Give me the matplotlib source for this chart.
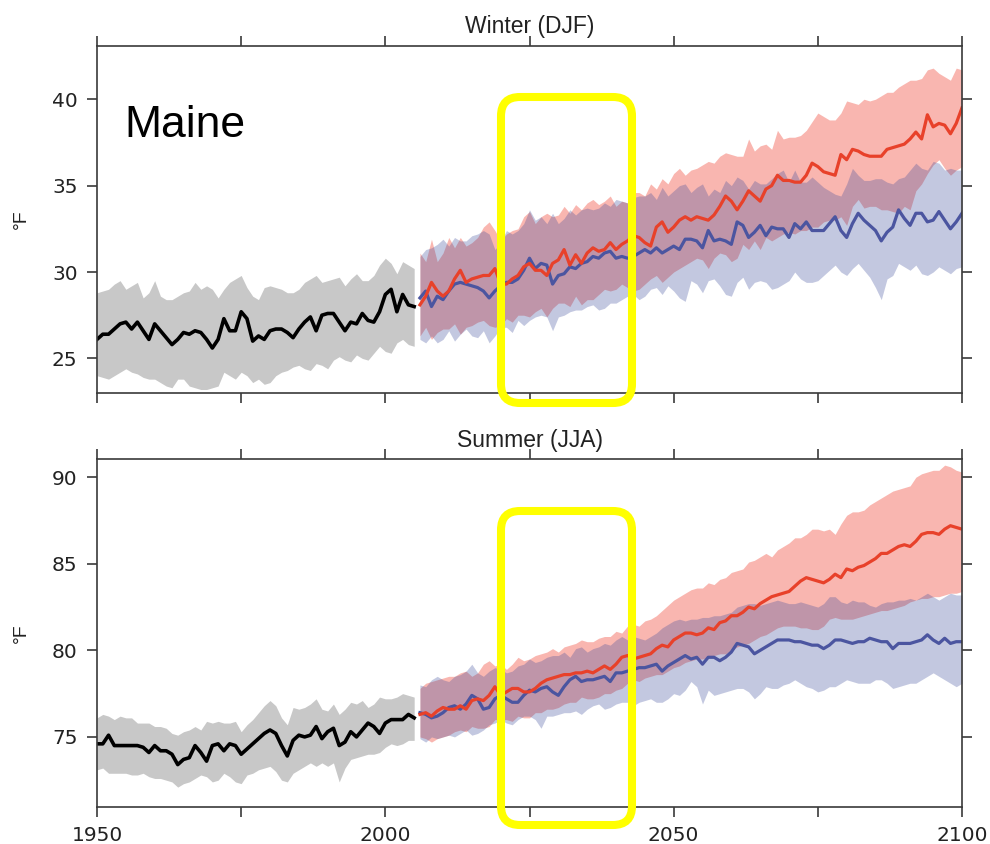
import numpy as np
import matplotlib
matplotlib.use('Agg')
import matplotlib.pyplot as plt
from matplotlib.patches import FancyBboxPatch
from matplotlib.ticker import MultipleLocator, FuncFormatter

plt.rcParams['font.family'] = ['Liberation Sans', 'DejaVu Sans']

# -------------------------------------------------
# Data (deg F, one value per year)

years_hist = np.arange(1950, 2006)
years_proj = np.arange(2006, 2101)

# Winter (DJF)
win_hist = [26.1, 26.4, 26.4, 26.7, 27.0, 27.1, 26.7, 27.1, 26.6, 26.1,
            27.0, 26.6, 26.2, 25.8, 26.1, 26.5, 26.4, 26.6, 26.5, 26.1,
            25.6, 26.1, 27.3, 26.6, 26.6, 27.7, 27.3, 26.0, 26.3, 26.1,
            26.6, 26.7, 26.7, 26.5, 26.2, 26.7, 27.1, 27.4, 26.6, 27.5,
            27.6, 27.6, 27.1, 26.6, 27.1, 27.0, 27.6, 27.2, 27.1, 27.7,
            28.7, 29.0, 27.7, 28.7, 28.1, 28.0]
win_hist_hi = [28.8, 28.9, 29.0, 29.3, 29.5, 29.0, 29.2, 29.4, 28.5, 28.8,
               29.5, 28.6, 28.4, 28.4, 28.6, 28.8, 28.9, 29.4, 29.0, 29.2,
               29.0, 28.5, 29.0, 29.4, 29.6, 29.8, 29.1, 28.6, 28.4, 29.1,
               29.2, 29.1, 29.0, 28.8, 28.8, 29.0, 29.4, 29.6, 29.8, 29.4,
               29.5, 29.6, 29.7, 29.2, 29.6, 29.9, 29.5, 29.5, 29.8, 30.4,
               30.8, 30.5, 29.9, 30.6, 30.4, 30.2]
win_hist_lo = [24.0, 23.9, 23.8, 24.0, 24.2, 24.4, 24.2, 24.1, 23.9, 23.8,
               23.8, 23.6, 23.4, 23.3, 23.8, 23.8, 23.4, 23.3, 23.2, 23.2,
               23.3, 23.4, 24.2, 24.0, 23.8, 24.2, 24.0, 23.6, 23.8, 23.5,
               23.6, 24.0, 24.2, 24.3, 24.5, 24.6, 24.4, 24.3, 24.7, 24.6,
               24.4, 24.9, 25.1, 24.9, 24.8, 25.2, 25.0, 24.9, 25.3, 25.7,
               25.4, 25.3, 25.9, 26.1, 25.8, 25.7]

win_high = [28.1, 28.6, 29.4, 28.9, 28.6, 28.9, 29.6, 30.1, 29.4, 29.6,
            29.7, 29.8, 29.8, 30.2, 29.3, 29.3, 29.6, 29.8, 30.3, 30.5,
            30.1, 30.1, 29.8, 30.5, 30.7, 31.3, 30.4, 31.0, 30.5, 31.1,
            31.4, 31.2, 31.3, 31.7, 31.3, 31.6, 31.8, 32.1, 32.0, 31.7,
            31.5, 32.6, 32.9, 32.3, 32.6, 33.0, 33.2, 33.0, 33.2, 33.1,
            33.0, 33.3, 33.8, 34.4, 34.1, 33.6, 34.1, 34.7, 34.4, 34.1,
            34.8, 35.0, 35.6, 35.3, 35.3, 35.2, 35.2, 35.6, 36.3, 36.1,
            35.8, 35.7, 35.6, 36.8, 36.5, 37.1, 37.0, 36.8, 36.7, 36.7,
            36.7, 37.1, 37.2, 37.3, 37.4, 37.7, 38.1, 37.7, 39.1, 38.4,
            38.6, 38.5, 38.0, 38.6, 39.5]
win_high_hi = [31.1, 30.6, 31.9, 30.6, 31.1, 32.0, 31.4, 32.0, 31.5, 31.7,
               32.0, 32.6, 32.9, 32.4, 31.8, 32.2, 32.4, 32.5, 33.2, 33.5,
               32.8, 33.2, 33.4, 33.2, 33.3, 33.8, 33.4, 33.9, 33.6, 34.0,
               34.2, 33.9, 34.1, 34.4, 33.8, 34.1, 34.0, 34.6, 34.6, 34.4,
               35.1, 34.8, 35.4, 35.1, 35.7, 36.0, 35.6, 35.9, 36.0, 36.2,
               36.4, 36.3, 36.7, 36.9, 36.8, 36.7, 36.7, 37.7, 37.0, 37.3,
               37.4, 37.1, 38.2, 37.7, 37.8, 37.8, 37.9, 38.2, 38.7, 39.2,
               39.0, 38.8, 38.8, 39.2, 39.9, 39.8, 39.7, 40.0, 39.9, 40.0,
               40.2, 40.4, 40.4, 40.7, 40.9, 41.1, 41.1, 41.2, 41.7, 41.8,
               41.5, 41.3, 41.1, 41.8, 41.7]
win_high_lo = [26.3, 26.8, 26.1, 26.5, 26.7, 26.7, 27.0, 26.4, 26.8, 26.9,
               27.1, 27.2, 26.9, 26.8, 26.9, 27.3, 27.1, 27.5, 27.5, 27.4,
               27.7, 27.9, 27.4, 27.9, 28.2, 28.2, 28.0, 28.6, 28.1, 28.4,
               28.4, 28.7, 29.0, 28.9, 29.0, 29.3, 29.1, 28.9, 29.0, 29.3,
               29.6, 29.8, 29.4, 29.7, 30.0, 30.2, 30.4, 30.6, 30.8, 30.7,
               30.2, 30.8, 31.1, 31.0, 30.6, 30.8, 31.6, 31.3, 31.8, 31.3,
               32.0, 31.8, 32.0, 32.2, 32.3, 32.2, 32.4, 32.4, 32.6, 32.6,
               32.9, 33.0, 33.0, 33.2, 32.7, 33.8, 34.2, 33.7, 33.8, 33.8,
               33.6, 33.6, 33.5, 33.4, 33.8, 33.6, 34.7, 35.1, 35.7, 36.2,
               36.5, 36.0, 35.6, 35.9, 36.1]

win_low = [28.5, 28.9, 28.0, 28.6, 28.4, 28.9, 29.3, 29.4, 29.3, 29.2,
           29.1, 28.9, 28.5, 28.9, 29.2, 29.4, 29.4, 29.6, 30.1, 30.8,
           30.2, 30.5, 30.4, 29.3, 29.8, 29.9, 30.3, 30.2, 30.5, 30.6,
           30.9, 30.8, 31.1, 31.2, 30.8, 30.9, 30.8, 30.9, 31.1, 31.3,
           31.1, 31.4, 31.1, 31.3, 31.5, 31.3, 31.9, 31.9, 31.8, 31.4,
           32.4, 31.8, 31.9, 31.8, 31.6, 32.9, 32.7, 32.0, 32.3, 32.7,
           32.1, 32.6, 32.5, 32.5, 32.0, 32.8, 32.5, 32.9, 32.4, 32.4,
           32.4, 32.8, 33.2, 32.4, 32.0, 32.8, 33.4, 33.0, 32.7, 32.4,
           31.8, 32.3, 32.6, 33.6, 33.1, 32.7, 33.4, 33.4, 32.9, 33.0,
           33.5, 33.0, 32.5, 32.9, 33.4]
win_low_hi = [30.9, 31.3, 31.4, 31.6, 31.9, 31.5, 32.0, 31.8, 31.8, 32.1,
              32.2, 32.4, 32.2, 31.3, 31.7, 32.4, 32.2, 32.4, 32.8, 33.6,
              33.0, 33.2, 32.8, 33.4, 32.8, 33.1, 33.6, 33.3, 33.6, 33.7,
              33.6, 33.7, 34.0, 33.8, 34.2, 34.1, 34.0, 34.3, 34.4, 34.4,
              34.6, 34.2, 34.9, 34.4, 34.7, 35.0, 35.1, 34.6, 34.9, 35.1,
              34.4, 34.8, 34.6, 35.3, 35.0, 35.5, 35.3, 34.8, 35.3, 35.1,
              35.1, 35.4, 35.7, 35.9, 35.2, 35.9, 35.2, 35.2, 35.5, 35.2,
              34.9, 34.7, 34.5, 34.4, 35.1, 36.0, 35.6, 35.3, 35.3, 35.4,
              35.4, 35.2, 35.1, 35.4, 35.5, 35.9, 36.3, 36.0, 35.9, 36.4,
              36.3, 35.9, 36.0, 35.9, 35.9]
win_low_lo = [26.1, 25.9, 26.3, 25.9, 26.1, 26.6, 26.0, 26.4, 26.7, 26.3,
              26.2, 26.6, 25.9, 26.3, 26.8, 26.8, 26.5, 27.2, 26.9, 27.2,
              27.4, 27.5, 27.4, 26.6, 27.4, 27.5, 27.7, 27.8, 27.8, 28.0,
              28.1, 27.8, 27.9, 28.2, 28.2, 28.4, 28.6, 28.7, 28.4, 28.6,
              29.0, 29.1, 28.7, 29.2, 28.9, 28.5, 28.3, 29.5, 29.3, 28.8,
              29.5, 29.6, 29.2, 28.7, 28.6, 29.4, 29.7, 29.0, 29.4, 29.5,
              29.4, 29.0, 29.1, 29.3, 29.5, 30.0, 29.6, 29.4, 29.4, 29.5,
              29.8, 30.1, 30.4, 30.0, 29.8, 30.2, 30.5, 30.1, 29.7, 29.1,
              28.4, 29.6, 29.8, 30.5, 30.3, 30.1, 30.4, 29.9, 29.8, 30.0,
              30.3, 30.1, 29.9, 30.2, 30.3]

# Summer (JJA)
sum_hist = [74.6, 74.6, 75.1, 74.5, 74.5, 74.5, 74.5, 74.5, 74.4, 74.1,
            74.5, 74.2, 74.2, 74.0, 73.4, 73.7, 73.8, 74.5, 74.1, 73.6,
            74.5, 74.6, 74.2, 74.6, 74.5, 74.0, 74.3, 74.6, 74.9, 75.2,
            75.4, 75.2, 74.5, 73.9, 74.8, 75.1, 75.0, 75.1, 75.6, 74.9,
            75.3, 75.5, 74.5, 74.7, 75.3, 75.0, 75.4, 75.8, 75.6, 75.2,
            75.8, 76.0, 76.0, 76.0, 76.3, 76.1]
sum_hist_hi = [76.1, 76.3, 76.2, 76.0, 76.2, 76.1, 76.1, 75.8, 75.8, 75.8,
               75.6, 75.6, 75.5, 75.2, 75.1, 75.3, 75.4, 75.6, 75.4, 75.9,
               75.8, 75.9, 75.8, 75.8, 75.9, 75.3, 75.7, 76.0, 76.4, 76.8,
               77.1, 76.8, 76.1, 75.7, 76.7, 76.6, 76.7, 76.9, 77.2, 76.6,
               76.5, 76.9, 76.3, 76.6, 77.0, 76.9, 77.1, 76.7, 76.9, 77.3,
               77.2, 77.2, 77.3, 77.5, 77.4, 77.3]
sum_hist_lo = [73.1, 73.2, 72.9, 72.9, 72.9, 72.9, 72.8, 72.8, 72.9, 72.7,
               72.6, 72.6, 72.5, 72.4, 72.1, 72.3, 72.4, 72.6, 72.8, 72.7,
               72.4, 72.5, 72.9, 72.7, 72.4, 72.3, 72.8, 72.9, 73.1, 73.2,
               73.3, 73.0, 72.5, 72.4, 72.9, 73.1, 73.3, 73.5, 73.3, 73.5,
               73.3, 73.5, 72.4, 73.2, 73.7, 73.8, 73.9, 74.0, 74.0, 74.1,
               74.4, 74.6, 74.5, 74.6, 74.8, 74.8]

sum_high = [76.3, 76.4, 76.2, 76.5, 76.7, 76.6, 76.6, 76.8, 76.6, 77.1,
            77.2, 77.1, 77.4, 77.9, 77.4, 77.6, 77.8, 77.8, 77.6, 77.6,
            77.8, 78.1, 78.3, 78.4, 78.5, 78.6, 78.6, 78.7, 78.7, 78.8,
            78.7, 78.9, 79.1, 78.9, 79.2, 79.6, 79.7, 79.5, 79.6, 79.7,
            79.8, 80.1, 80.3, 80.2, 80.6, 80.8, 81.0, 81.0, 80.9, 81.0,
            81.3, 81.2, 81.6, 81.7, 82.0, 82.0, 82.2, 82.5, 82.4, 82.7,
            82.9, 83.1, 83.2, 83.3, 83.4, 83.7, 84.0, 84.2, 84.1, 84.0,
            83.9, 84.1, 84.4, 84.2, 84.7, 84.6, 84.8, 84.9, 85.1, 85.3,
            85.6, 85.6, 85.8, 86.0, 86.1, 86.0, 86.3, 86.7, 86.8, 86.8,
            86.7, 87.0, 87.2, 87.1, 87.0]
sum_high_hi = [77.8, 78.1, 78.2, 78.3, 78.4, 78.5, 78.5, 78.7, 78.8, 78.5,
               78.7, 79.2, 79.4, 79.1, 79.2, 78.9, 79.2, 79.6, 79.4, 79.5,
               79.7, 79.8, 79.9, 80.1, 79.9, 80.2, 80.3, 80.4, 80.6, 80.5,
               80.5, 80.7, 80.8, 80.8, 81.1, 81.0, 81.4, 81.5, 81.4, 81.7,
               81.8, 82.0, 82.3, 82.6, 82.9, 83.1, 83.3, 83.5, 83.6, 83.6,
               83.9, 83.8, 84.1, 84.2, 84.5, 84.6, 84.7, 85.1, 85.2, 85.4,
               85.6, 85.4, 85.8, 86.0, 86.2, 86.5, 86.5, 86.7, 87.0, 87.0,
               86.9, 87.0, 86.7, 87.3, 87.8, 88.0, 88.0, 88.1, 88.4, 88.6,
               88.8, 89.0, 89.2, 89.3, 89.4, 89.5, 90.0, 90.2, 90.3, 90.4,
               90.4, 90.7, 90.6, 90.4, 90.3]
sum_high_lo = [75.0, 74.9, 74.7, 74.9, 75.0, 75.1, 75.3, 75.4, 75.3, 75.6,
               75.5, 75.5, 75.6, 76.0, 76.0, 76.0, 75.9, 76.2, 76.1, 76.1,
               76.4, 76.4, 76.6, 76.6, 76.7, 76.9, 77.0, 77.0, 77.3, 77.2,
               77.2, 77.3, 77.5, 77.5, 77.7, 77.8, 78.1, 78.3, 78.2, 78.4,
               78.5, 78.6, 78.6, 78.8, 79.0, 79.1, 79.3, 79.4, 79.5, 79.5,
               79.6, 79.7, 79.8, 79.8, 80.0, 80.2, 80.3, 80.4, 80.6, 80.8,
               80.9, 81.1, 81.3, 81.4, 81.4, 81.4, 81.3, 81.3, 81.2, 81.2,
               81.4, 81.8, 81.9, 81.8, 81.8, 81.8, 81.9, 82.0, 82.1, 82.2,
               82.3, 82.3, 82.4, 82.5, 82.6, 82.8, 82.9, 83.0, 83.0, 83.1,
               83.1, 83.2, 83.3, 83.3, 83.4]

sum_low = [76.4, 76.3, 76.1, 76.2, 76.4, 76.7, 76.8, 76.6, 76.9, 77.4,
           77.2, 76.6, 76.7, 77.2, 77.4, 77.2, 77.0, 77.0, 77.4, 77.7,
           77.6, 77.8, 77.9, 77.6, 77.4, 77.9, 78.3, 78.5, 78.2, 78.3,
           78.3, 78.4, 78.5, 78.2, 78.7, 78.7, 78.8, 78.9, 79.0, 79.0,
           79.1, 79.2, 78.8, 79.1, 79.3, 79.5, 79.7, 79.5, 79.6, 79.2,
           79.6, 79.6, 79.4, 79.6, 79.9, 80.4, 80.3, 80.2, 79.8, 80.0,
           80.2, 80.4, 80.6, 80.6, 80.6, 80.5, 80.5, 80.4, 80.3, 80.3,
           80.1, 80.3, 80.6, 80.6, 80.5, 80.4, 80.5, 80.5, 80.7, 80.6,
           80.5, 80.5, 80.1, 80.4, 80.4, 80.4, 80.5, 80.6, 80.9, 80.6,
           80.4, 80.7, 80.4, 80.5, 80.5]
sum_low_hi = [78.0, 77.9, 78.3, 78.5, 78.3, 78.2, 78.5, 78.6, 78.8, 79.2,
              78.7, 78.5, 78.8, 79.0, 78.9, 78.7, 78.8, 79.1, 79.2, 79.5,
              79.3, 79.4, 79.6, 79.7, 79.7, 79.9, 79.6, 80.1, 80.2, 79.9,
              80.1, 80.2, 80.4, 80.3, 80.6, 80.8, 80.6, 80.8, 80.7, 80.6,
              80.8, 81.0, 81.3, 81.5, 81.7, 81.8, 81.7, 81.8, 81.8, 81.9,
              81.9, 82.0, 82.0, 82.1, 82.2, 82.5, 82.6, 82.7, 82.7, 82.6,
              82.7, 82.8, 82.9, 82.8, 82.7, 82.7, 82.8, 82.7, 82.6, 82.5,
              82.7, 83.1, 83.1, 82.8, 82.7, 82.9, 82.8, 82.8, 82.6, 82.5,
              82.7, 82.8, 82.8, 82.9, 82.9, 83.0, 82.9, 83.1, 83.3, 83.1,
              82.9, 83.1, 83.3, 83.2, 83.2]
sum_low_lo = [74.9, 74.7, 75.0, 74.9, 75.0, 75.1, 75.0, 75.2, 75.4, 75.1,
              75.2, 75.4, 75.7, 75.8, 76.0, 75.8, 75.7, 76.0, 76.2, 76.2,
              76.0, 75.5, 76.2, 76.2, 76.3, 76.4, 76.4, 76.5, 76.3, 76.6,
              76.8, 76.9, 76.6, 76.7, 76.9, 77.0, 77.0, 76.8, 77.0, 77.1,
              77.2, 77.0, 77.0, 77.2, 77.5, 77.4, 77.7, 78.2, 77.9, 76.9,
              77.7, 77.4, 77.5, 77.6, 77.7, 77.8, 77.8, 77.6, 77.2, 77.5,
              77.9, 77.8, 77.8, 78.0, 78.1, 78.3, 78.1, 77.9, 77.8, 77.6,
              77.7, 77.9, 77.9, 78.1, 78.3, 78.2, 78.1, 78.1, 78.1, 78.3,
              78.3, 78.1, 77.8, 77.9, 78.0, 78.1, 78.1, 78.3, 78.5, 78.7,
              78.5, 78.3, 78.1, 77.9, 78.1]

# -------------------------------------------------
# Figure

fig = plt.figure(figsize=(9.9, 8.44), dpi=100)
ax_win = fig.add_axes([0.098, 0.5344, 0.8737, 0.4115])
ax_sum = fig.add_axes([0.098, 0.0438, 0.8737, 0.4123])

spine_col = '#3a3a3a'


def draw_panel(ax, hist, hist_lo, hist_hi, high, high_lo, high_hi,
               low, low_lo, low_hi, ylim, title):
    ax.fill_between(years_hist, hist_lo, hist_hi, color='#c8c8c8', lw=0)
    ax.fill_between(years_proj, high_lo, high_hi, color='#f04a3a',
                    alpha=0.4, lw=0)
    ax.fill_between(years_proj, low_lo, low_hi, color='#3b4a9a',
                    alpha=0.3, lw=0)
    ax.plot(years_hist, hist, color='black', lw=2.6)
    ax.plot(years_proj, low, color='#4b55a0', lw=2.3)
    ax.plot(years_proj, high, color='#e8412a', lw=2.3)

    ax.set_xlim(1950, 2100)
    ax.set_ylim(*ylim)
    ax.xaxis.set_major_locator(MultipleLocator(25))
    ax.yaxis.set_major_locator(MultipleLocator(5))
    ax.xaxis.set_major_formatter(
        FuncFormatter(lambda v, p: '%d' % v if v % 50 == 0 else ''))
    ax.tick_params(direction='out', length=7, width=1.2, color=spine_col,
                   top=True, right=True, labelsize=14.5, pad=7,
                   labelcolor='#222222')
    for lab in ax.get_xticklabels() + ax.get_yticklabels():
        lab.set_fontfamily('DejaVu Sans')
    for sp in ax.spines.values():
        sp.set_color(spine_col)
        sp.set_linewidth(1.2)

    ax.text(0.5, 1.036, title, transform=ax.transAxes, ha='center',
            va='baseline', fontsize=16.5, color='#222222')
    ax.set_ylabel('°F', fontsize=14, color='#222222')
    ax.yaxis.set_label_coords(-0.0775, 0.5)


draw_panel(ax_win, win_hist, win_hist_lo, win_hist_hi,
           win_high, win_high_lo, win_high_hi,
           win_low, win_low_lo, win_low_hi, (23.0, 43.1), 'Winter (DJF)')
draw_panel(ax_sum, sum_hist, sum_hist_lo, sum_hist_hi,
           sum_high, sum_high_lo, sum_high_hi,
           sum_low, sum_low_lo, sum_low_hi, (70.95, 91.05), 'Summer (JJA)')

ax_win.tick_params(labelbottom=False)
ax_win.text(0.032, 0.737, 'Maine', transform=ax_win.transAxes,
            fontsize=32, va='baseline', color='black')

# yellow highlight boxes, drawn on a pixel overlay (990 x 844)
over = fig.add_axes([0, 0, 1, 1], zorder=10)
over.set_xlim(0, 990)
over.set_ylim(844, 0)
over.axis('off')
for top, bottom in [(97, 403), (511, 825)]:
    box = FancyBboxPatch((501, top), 131, bottom - top,
                         boxstyle='round,pad=0,rounding_size=19',
                         ec='#ffff00', fc='none', lw=5.8)
    over.add_patch(box)

fig.savefig('out.png', dpi=100)
